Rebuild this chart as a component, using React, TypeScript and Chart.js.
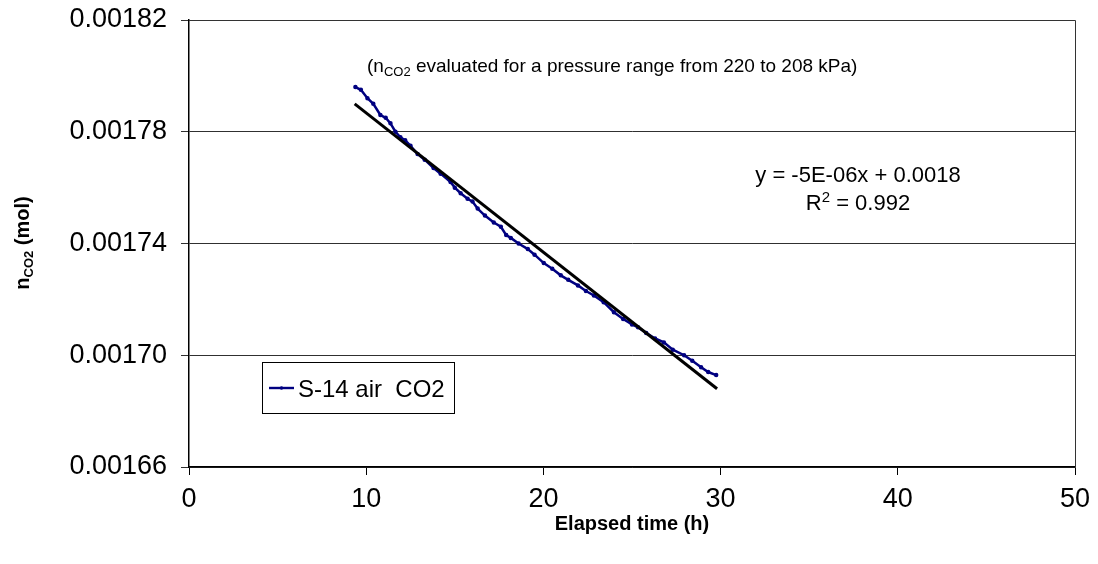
import React, { useEffect, useRef } from 'react';
import { Chart, registerables } from 'chart.js';

Chart.register(...registerables);

// ---- data ----
const timeHours = [
  9.39, 9.7, 10.07, 10.4, 10.8, 11.1, 11.37, 11.65, 11.93, 12.2, 12.5, 12.9, 13.3, 13.8,
  14.2, 14.76, 15.0, 15.33, 15.72, 16.0, 16.29, 16.7, 17.2, 17.6, 17.9, 18.16, 18.6,
  19.12, 19.5, 20.02, 20.5, 20.98, 21.4, 21.95, 22.4, 22.85, 23.4, 23.98, 24.5, 25.0,
  25.34, 25.8, 26.3, 26.8, 27.3, 27.94, 28.4, 28.9, 29.3, 29.75,
];
const nCO2Values = [
  0.001796, 0.001795, 0.001792, 0.00179, 0.001786, 0.001785, 0.001783, 0.00178, 0.001778,
  0.001777, 0.001775, 0.001772, 0.00177, 0.001767, 0.001765, 0.001762, 0.00176, 0.001758,
  0.001756, 0.001755, 0.0017525, 0.00175, 0.0017475, 0.001746, 0.001743, 0.001742, 0.00174,
  0.001738, 0.001736, 0.001733, 0.001731, 0.0017286, 0.001727, 0.001725, 0.001723, 0.0017214,
  0.001719, 0.0017154, 0.001713, 0.001711, 0.00171, 0.001708, 0.001706, 0.0017046, 0.001702,
  0.0017, 0.001698, 0.0016957, 0.001694, 0.0016929,
];
const trendTime = [9.35, 29.8];
const trendValues = [0.00179, 0.001688];

const xTicks = [0, 10, 20, 30, 40, 50];
const yTicks = [0.00166, 0.0017, 0.00174, 0.00178, 0.00182];
const yTickLabels = ['0.00166', '0.00170', '0.00174', '0.00178', '0.00182'];

const seriesLabel = 'S-14 air  CO2';
const xAxisTitle = 'Elapsed time (h)';
const equationText = 'y = -5E-06x + 0.0018';
const r2Text = ' = 0.992';
const noteText = ' evaluated for a pressure range from 220 to 208 kPa)';

const FAMILY = "'Liberation Sans', Arial, Helvetica, sans-serif";

type Run = { t: string; sub?: boolean; sup?: boolean };

function drawRuns(
  ctx: CanvasRenderingContext2D,
  runs: Run[],
  x: number,
  y: number,
  size: number,
  weight: string,
  align: 'left' | 'center',
) {
  const fontFor = (r: Run) =>
    `${weight} ${r.sub || r.sup ? Math.round(size * 0.66) : size}px ${FAMILY}`;
  const widths = runs.map((r) => {
    ctx.font = fontFor(r);
    return ctx.measureText(r.t).width;
  });
  const total = widths.reduce((a, b) => a + b, 0);
  let cx = align === 'center' ? x - total / 2 : x;
  ctx.textAlign = 'left';
  ctx.textBaseline = 'alphabetic';
  runs.forEach((r, i) => {
    ctx.font = fontFor(r);
    const dy = r.sub ? size * 0.2 : r.sup ? -size * 0.38 : 0;
    ctx.fillText(r.t, cx, y + dy);
    cx += widths[i];
  });
}

const decorPlugin = {
  id: 'decor',
  afterDraw(chart: any) {
    const { ctx, chartArea } = chart;
    ctx.save();
    // frame (top & right)
    ctx.strokeStyle = '#333';
    ctx.lineWidth = 1;
    ctx.beginPath();
    ctx.moveTo(chartArea.left, chartArea.top + 0.5);
    ctx.lineTo(chartArea.right + 0.5, chartArea.top + 0.5);
    ctx.lineTo(chartArea.right + 0.5, chartArea.bottom);
    ctx.stroke();

    ctx.fillStyle = '#000';
    // note at top
    drawRuns(ctx, [{ t: '(n' }, { t: 'CO2', sub: true }, { t: noteText }], 367, 72, 19, 'normal', 'left');
    // regression equation
    drawRuns(ctx, [{ t: equationText }], 858, 182, 22, 'normal', 'center');
    drawRuns(ctx, [{ t: 'R' }, { t: '2', sup: true }, { t: r2Text }], 858, 210, 22, 'normal', 'center');
    // x-axis title
    drawRuns(ctx, [{ t: xAxisTitle }], 632, 530, 20, 'bold', 'center');
    // y-axis title (rotated)
    ctx.save();
    ctx.translate(29, 243);
    ctx.rotate(-Math.PI / 2);
    drawRuns(ctx, [{ t: 'n' }, { t: 'CO2', sub: true }, { t: ' (mol)' }], 0, 0, 20, 'bold', 'center');
    ctx.restore();

    // legend box
    const ds = chart.data.datasets[0];
    const bx = 262, by = 362, bw = 192, bh = 51;
    ctx.fillStyle = '#fff';
    ctx.fillRect(bx, by, bw, bh);
    ctx.strokeStyle = '#000';
    ctx.lineWidth = 1;
    ctx.strokeRect(bx + 0.5, by + 0.5, bw, bh);
    ctx.strokeStyle = ds.borderColor;
    ctx.lineWidth = 2.4;
    ctx.beginPath();
    ctx.moveTo(269, 388);
    ctx.lineTo(294, 388);
    ctx.stroke();
    ctx.fillStyle = ds.borderColor;
    ctx.beginPath();
    ctx.arc(281.5, 388, 1.8, 0, Math.PI * 2);
    ctx.fill();
    ctx.fillStyle = '#000';
    drawRuns(ctx, [{ t: ds.label }], 298, 397, 24, 'normal', 'left');
    ctx.restore();
  },
};

const zeroPadding = (s: any) => {
  s.paddingTop = 0;
  s.paddingBottom = 0;
  s.paddingLeft = 0;
  s.paddingRight = 0;
};

export default function App() {
  const canvasRef = useRef<HTMLCanvasElement | null>(null);

  useEffect(() => {
    const canvas = canvasRef.current;
    if (!canvas) return;
    const chart = new Chart(canvas, {
      type: 'scatter',
      data: {
        datasets: [
          {
            label: seriesLabel,
            data: timeHours.map((x, i) => ({ x, y: nCO2Values[i] })),
            showLine: true,
            borderColor: '#000080',
            backgroundColor: '#000080',
            borderWidth: 2.5,
            pointRadius: 1,
            pointHoverRadius: 0,
            order: 2,
          },
          {
            label: 'Linear fit',
            data: trendTime.map((x, i) => ({ x, y: trendValues[i] })),
            showLine: true,
            borderColor: '#000000',
            backgroundColor: '#000000',
            borderWidth: 3,
            pointRadius: 0,
            pointHoverRadius: 0,
            order: 1,
          },
        ],
      },
      options: {
        responsive: false,
        animation: false,
        devicePixelRatio: 1,
        layout: { padding: { top: 20, right: 23, left: 0, bottom: 0 } },
        plugins: { legend: { display: false }, tooltip: { enabled: false } },
        scales: {
          x: {
            type: 'linear',
            min: 0,
            max: 50,
            afterBuildTicks: (s: any) => {
              s.ticks = xTicks.map((v) => ({ value: v }));
            },
            afterFit: (s: any) => {
              s.height = 97;
              zeroPadding(s);
            },
            ticks: {
              font: { family: FAMILY, size: 27 },
              color: '#000',
              padding: 8,
              maxRotation: 0,
              autoSkip: false,
              callback: (v: any) => String(v),
            },
            grid: { drawOnChartArea: false, drawTicks: true, tickLength: 8, color: '#000', lineWidth: 1 },
            border: { display: true, color: '#000', width: 1.5 },
          },
          y: {
            type: 'linear',
            min: yTicks[0],
            max: yTicks[yTicks.length - 1],
            afterBuildTicks: (s: any) => {
              s.ticks = yTicks.map((v) => ({ value: v }));
            },
            afterFit: (s: any) => {
              s.width = 189;
              zeroPadding(s);
            },
            ticks: {
              font: { family: FAMILY, size: 27 },
              color: '#000',
              padding: 14,
              autoSkip: false,
              callback: (v: any) => yTickLabels[yTicks.indexOf(v)] ?? '',
            },
            grid: { drawOnChartArea: true, drawTicks: true, tickLength: 8, color: '#303030', lineWidth: 1 },
            border: { display: true, color: '#000', width: 1.5 },
          },
        },
      },
      plugins: [decorPlugin],
    } as any);
    return () => chart.destroy();
  }, []);

  return (
    <div style={{ position: 'absolute', left: 0, top: 0, width: 1098, height: 564, background: '#fff' }}>
      <canvas ref={canvasRef} width={1098} height={564} style={{ width: 1098, height: 564, display: 'block' }} />
    </div>
  );
}
